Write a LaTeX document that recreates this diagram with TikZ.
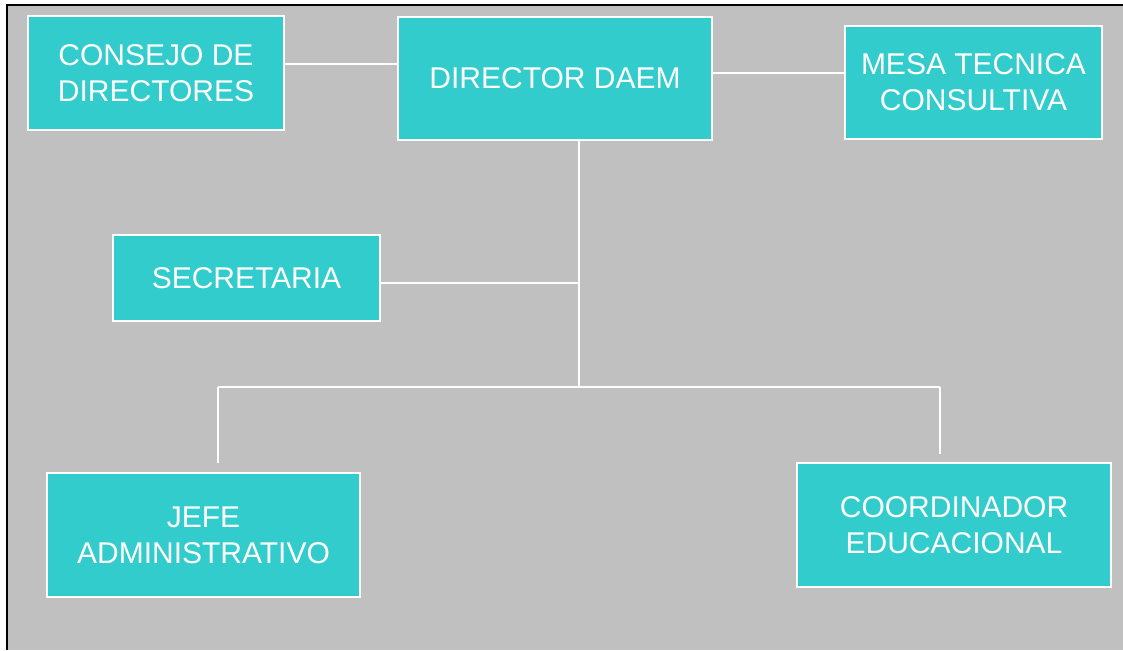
\documentclass[tikz,border=0pt]{standalone}
\usepackage{fontspec}
\setmainfont{Liberation Sans}
\definecolor{panelgray}{HTML}{C0C0C0}
\definecolor{boxteal}{HTML}{33CCCC}
\tikzset{
  unit/.style={rectangle, fill=boxteal, draw=white, line width=1.1pt,
    text=white, align=center, inner sep=0pt,
    font=\fontsize{30}{36}\selectfont},
  link/.style={draw=white, line width=1.4pt}
}
\begin{document}
\begin{tikzpicture}[x=1pt,y=-1pt]
	\useasboundingbox (0,0) rectangle (1123,650);
	\fill[panelgray] (7,5) rectangle (1123,650);
	\draw[black, line width=2.5pt] (7,650) -- (7,5) -- (1123,5);
	% top row
	\node[unit, minimum width=256, minimum height=114] (consejo) at (156,73) {CONSEJO DE\\DIRECTORES};
	\node[unit, minimum width=314, minimum height=123] (director) at (555,78.5) {DIRECTOR DAEM};
	\node[unit, minimum width=257, minimum height=113] (mesa) at (973.5,82.5) {MESA TECNICA\\CONSULTIVA};
	% middle
	\node[unit, minimum width=267, minimum height=86] (secretaria) at (246.5,278) {SECRETARIA};
	% bottom row
	\node[unit, minimum width=313, minimum height=124] (jefe) at (203.5,535) {JEFE\\ADMINISTRATIVO};
	\node[unit, minimum width=314, minimum height=124] (coord) at (954,525) {COORDINADOR\\EDUCACIONAL};
	% junctions
	\coordinate (hub) at (579,283);
	\coordinate (bar) at (579,387);
	\coordinate (barL) at (218,387);
	\coordinate (barR) at (940,387);
	\coordinate (dropL) at (218,463);
	\coordinate (dropR) at (940,454);
	% connectors
	\draw[link] (consejo.east|-0,64) -- (director.west|-0,64);
	\draw[link] (director.east|-0,73) -- (mesa.west|-0,73);
	\draw[link] (director.south-|bar) -- (bar);
	\draw[link] (secretaria.east|-hub) -- (hub);
	\draw[link] (barL) -- (barR);
	\draw[link] (barL) -- (dropL);
	\draw[link] (barR) -- (dropR);
\end{tikzpicture}
\end{document}
